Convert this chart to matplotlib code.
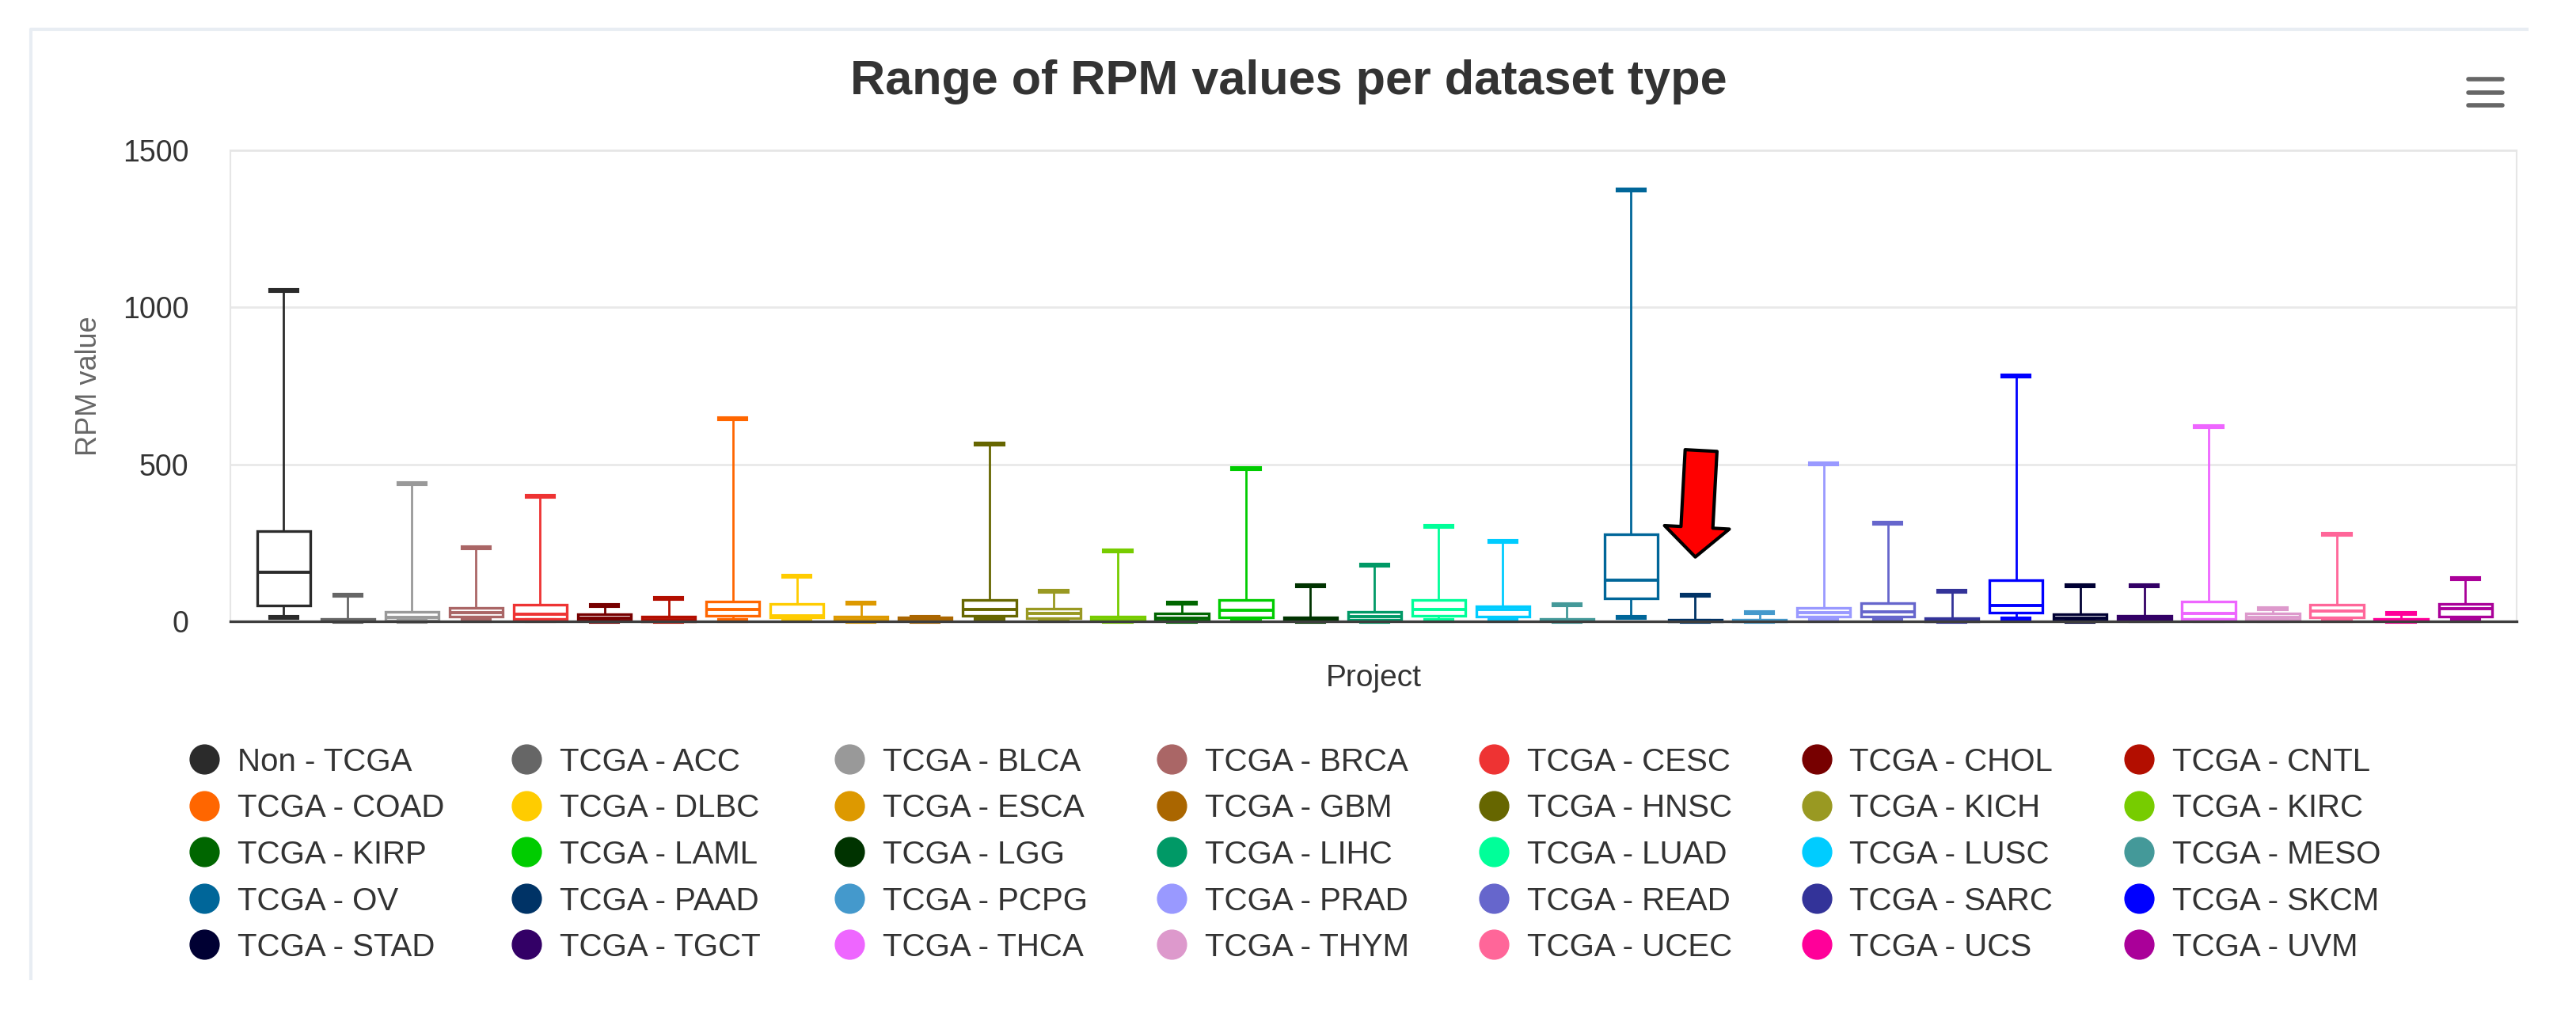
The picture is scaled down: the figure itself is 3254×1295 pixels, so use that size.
import matplotlib
matplotlib.use("Agg")
import matplotlib.pyplot as plt
from matplotlib.lines import Line2D

plt.rcParams['font.family'] = ['Liberation Sans', 'DejaVu Sans']

# projects, in legend order
categories = ['Non - TCGA', 'TCGA - ACC', 'TCGA - BLCA', 'TCGA - BRCA', 'TCGA - CESC', 'TCGA - CHOL', 'TCGA - CNTL',
              'TCGA - COAD', 'TCGA - DLBC', 'TCGA - ESCA', 'TCGA - GBM', 'TCGA - HNSC', 'TCGA - KICH', 'TCGA - KIRC',
              'TCGA - KIRP', 'TCGA - LAML', 'TCGA - LGG', 'TCGA - LIHC', 'TCGA - LUAD', 'TCGA - LUSC', 'TCGA - MESO',
              'TCGA - OV', 'TCGA - PAAD', 'TCGA - PCPG', 'TCGA - PRAD', 'TCGA - READ', 'TCGA - SARC', 'TCGA - SKCM',
              'TCGA - STAD', 'TCGA - TGCT', 'TCGA - THCA', 'TCGA - THYM', 'TCGA - UCEC', 'TCGA - UCS', 'TCGA - UVM']

colors = ['#2b2b2b', '#666666', '#999999', '#aa6666', '#ee3333', '#770000', '#b30e00',
          '#ff6600', '#ffcc00', '#dd9900', '#aa6600', '#666600', '#999922', '#77cc00',
          '#006600', '#00cc00', '#003300', '#009966', '#00ff99', '#00ccff', '#449999',
          '#006699', '#003366', '#4499cc', '#9999ff', '#6666cc', '#333399', '#0000ff',
          '#000033', '#330066', '#ee66ff', '#dd99cc', '#ff6699', '#ff0099', '#aa0099']

# RPM values
low    = [12, 0, 1, 2, 2, 1, 0,   2, 4, 0, 0, 4, 3, 0,   1, 3, 0, 1, 3, 3, 0,
          12, 0, 0, 3, 3, 0, 7,   0, 2, 3, 2, 3, 0, 3]
q1     = [50, 2, 3, 15, 8, 3, 1,  17, 13, 2, 2, 18, 10, 2,  3, 12, 2, 4, 17, 14, 2,
          73, 1, 1, 15, 15, 1, 28,  3, 6, 8, 5, 12, 2, 15]
median = [156, 4, 12, 27, 22, 10, 5,  38, 17, 6, 5, 38, 25, 6,  10, 35, 5, 15, 38, 38, 4,
          132, 3, 2, 28, 30, 4, 51,  10, 10, 25, 12, 32, 4, 40]
q3     = [287, 7, 30, 44, 52, 23, 15,  63, 55, 15, 12, 69, 41, 14,  24, 69, 12, 30, 69, 48, 8,
          277, 6, 5, 42, 58, 10, 132,  22, 18, 62, 24, 53, 7, 55]
high   = [1055, 84, 439, 234, 399, 50, 74,  645, 144, 58, 12, 565, 96, 224,  58, 486, 113, 178, 303, 255, 53,
          1373, 84, 28, 502, 313, 96, 781,  113, 113, 620, 40, 277, 24, 135]

W, H = 3255, 1295
fig = plt.figure(figsize=(W / 100, H / 100), dpi=100)
fig.patch.set_facecolor('white')

# outer chart frame (left and top edges only show)
fig.add_artist(Line2D([39 / W, 39 / W, 3192 / W], [1 - 1236 / H, 1 - 37 / H, 1 - 37 / H],
                      color='#e8edf3', lw=3, transform=fig.transFigure))

ax = fig.add_axes([291 / W, 1 - 785 / H, 2888 / W, 595 / H])

stats = []
for i in range(len(categories)):
    stats.append(dict(whislo=low[i], q1=q1[i], med=median[i], q3=q3[i], whishi=high[i],
                      fliers=[], label=categories[i]))

pos = list(range(len(categories)))
res = ax.bxp(stats, positions=pos, widths=0.83, capwidths=0.41, patch_artist=True,
             showfliers=False, manage_ticks=False)

for i, c in enumerate(colors):
    res['boxes'][i].set(facecolor='white', edgecolor=c, linewidth=2.4, zorder=3, clip_on=False)
    res['medians'][i].set(color=c, linewidth=2.8, zorder=4, clip_on=False)
    for k in (2 * i, 2 * i + 1):
        res['whiskers'][k].set(color=c, linewidth=2.0, zorder=2.8, clip_on=False)
        res['caps'][k].set(color=c, linewidth=4.4, zorder=4, clip_on=False)

ax.set_xlim(-0.83, len(categories) - 1 + 0.80)
ax.set_ylim(0, 1500)
ax.set_yticks([0, 500, 1000, 1500])
ax.set_xticks([])
ax.tick_params(axis='y', length=0, pad=38, labelsize=27, labelcolor='#333333')
ax.yaxis.grid(True, color='#e9e9e9', linewidth=2)
ax.set_axisbelow(True)
for s in ('left', 'right', 'top'):
    ax.spines[s].set_color('#e6e6e6')
    ax.spines[s].set_linewidth(1.5)
ax.spines['bottom'].set_color('#3d3d3d')
ax.spines['bottom'].set_linewidth(2.4)
ax.spines['bottom'].set_zorder(5)

# red arrow pointing at PAAD
paad = categories.index('TCGA - PAAD')
ax.annotate('', xy=(paad, high[paad] + 121), xytext=(paad + 0.09, high[paad] + 460),
            arrowprops=dict(arrowstyle='simple,head_length=27,head_width=59,tail_width=29',
                            mutation_scale=1, fc='#ff0000', ec='black', lw=3,
                            shrinkA=0, shrinkB=0), zorder=6)

# titles
fig.text(1628 / W, 1 - 119 / H, 'Range of RPM values per dataset type', ha='center', va='baseline',
         fontsize=44, fontweight='bold', color='#333333')
fig.text(113 / W, 1 - 488 / H, 'RPM value', rotation=90, ha='center', va='center',
         fontsize=26, color='#666666')
fig.text(1735 / W, 1 - 867 / H, 'Project', ha='center', va='baseline', fontsize=28, color='#333333')

# hamburger menu icon
for yy in (100, 117, 133):
    fig.add_artist(Line2D([3118 / W, 3161 / W], [1 - yy / H, 1 - yy / H], color='#666666', lw=4,
                          solid_capstyle='round', transform=fig.transFigure))

# legend: 7 columns, filled row by row
ncol = 7
for i, (name, c) in enumerate(zip(categories, colors)):
    row, col = divmod(i, ncol)
    mx = 258 + col * 407.3
    my = 959 + row * 58.5
    fig.add_artist(Line2D([mx / W], [1 - my / H], marker='o', markersize=26.5, color=c,
                          linestyle='none', transform=fig.transFigure))
    fig.text((mx + 42) / W, 1 - (my + 15) / H, name, ha='left', va='baseline',
             fontsize=29, color='#333333')

fig.savefig('out.png', dpi=100, facecolor='white')
